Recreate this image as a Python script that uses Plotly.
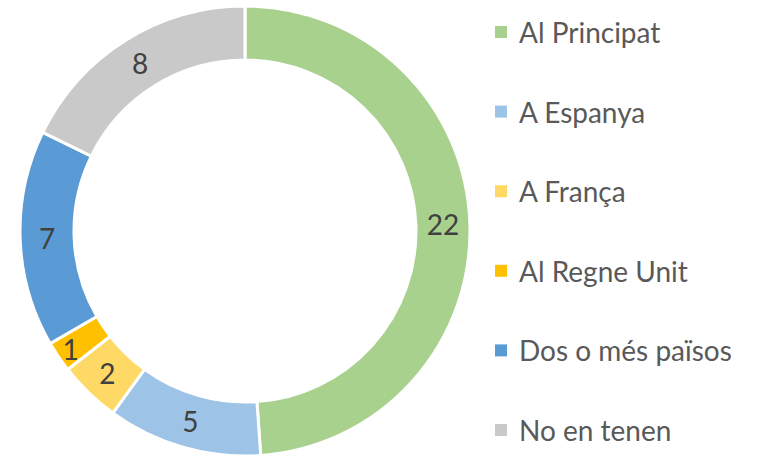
import plotly.graph_objects as go

labels = ["Al Principat", "A Espanya", "A França", "Al Regne Unit", "Dos o més països", "No en tenen"]
values = [22, 5, 2, 1, 7, 8]
colors = ["#A9D18E", "#9DC3E6", "#FFD966", "#FFC000", "#5B9BD5", "#C9C9C9"]

W, H = 760, 462
FONT = "Lato"

fig = go.Figure()
fig.add_trace(go.Pie(
    labels=labels, values=values, sort=False, direction="clockwise", rotation=0,
    hole=0.76, marker=dict(colors=colors, line=dict(color="white", width=3)),
    textinfo="value", textposition="inside", insidetextorientation="horizontal",
    textfont=dict(family=FONT, size=28, color="#404040"),
    domain=dict(x=[20/W, 470/W], y=[6/H, 456/H]),
    showlegend=False, hoverinfo="label+value",
))

# Custom legend (spaced like the original)
leg_x_sq = 495
leg_x_txt = 517
leg_y0 = 32
leg_dy = 79.6
for i, (lab, col) in enumerate(zip(labels, colors)):
    yc = leg_y0 + i * leg_dy
    fig.add_shape(type="rect", xref="paper", yref="paper",
                  x0=leg_x_sq / W, x1=(leg_x_sq + 12) / W,
                  y0=1 - (yc + 6) / H, y1=1 - (yc - 6) / H,
                  fillcolor=col, line=dict(width=0))
    fig.add_annotation(x=leg_x_txt / W, y=1 - yc / H, xref="paper", yref="paper",
                       text=lab, showarrow=False, xanchor="left", yanchor="middle",
                       font=dict(family=FONT, size=28, color="#595959"))

fig.update_layout(width=W, height=H, margin=dict(l=0, r=0, t=0, b=0),
                  paper_bgcolor="white", plot_bgcolor="white",
                  uniformtext=dict(minsize=28, mode="show"))
fig.write_html("out.html", config={"displayModeBar": False},
               post_script="document.body.style.margin='0';document.body.style.overflow='hidden';")
